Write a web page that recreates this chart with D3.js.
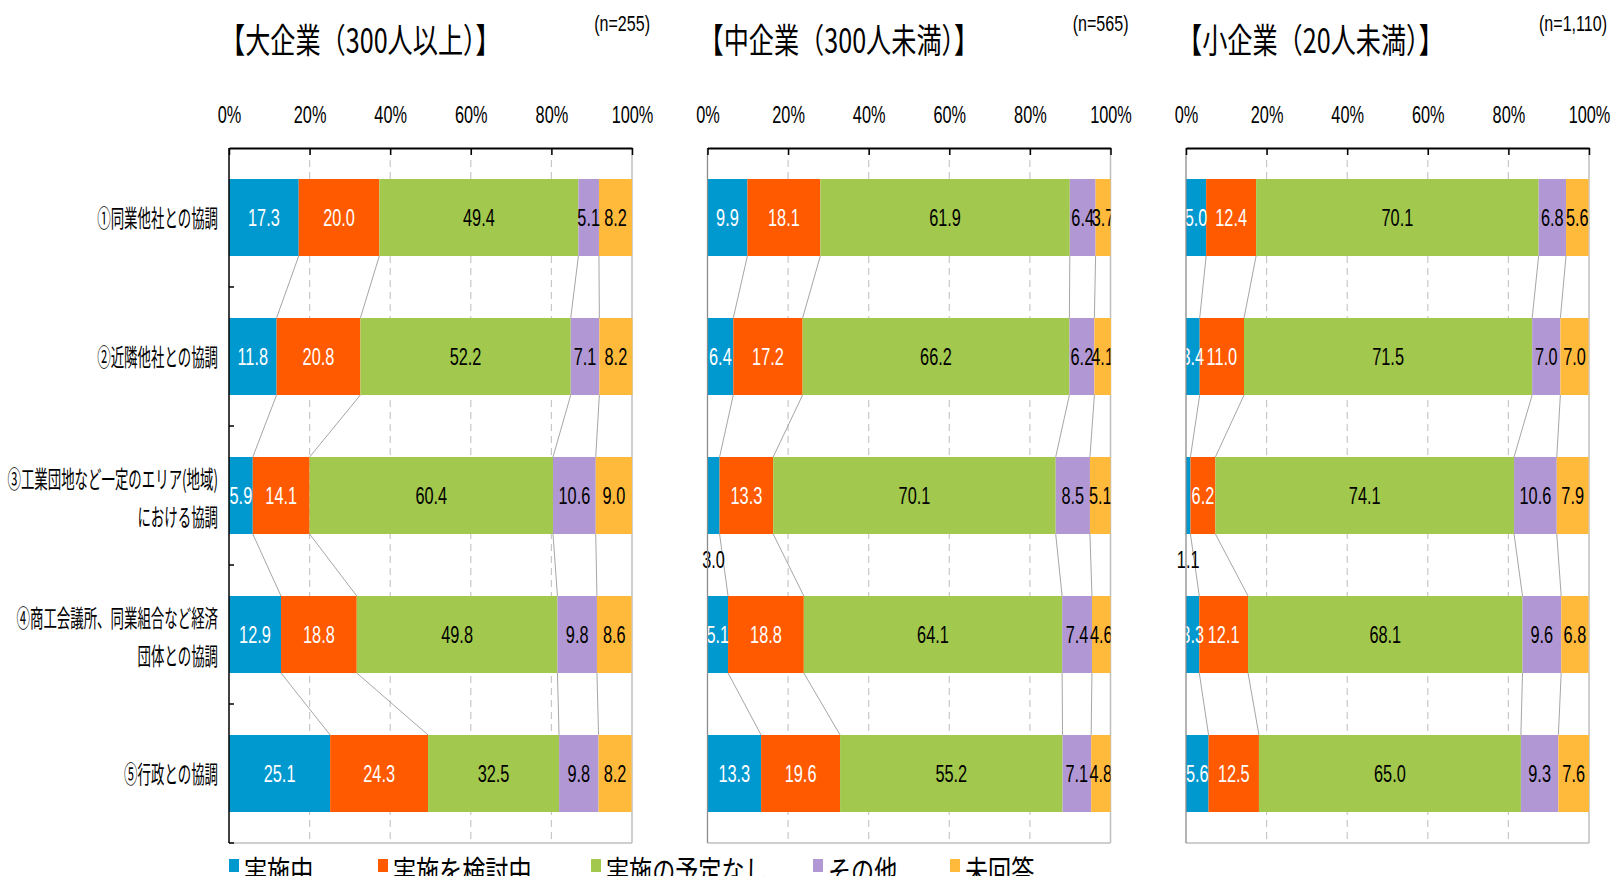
<!DOCTYPE html>
<html>
<head>
<meta charset="utf-8">
<script src="https://cdn.jsdelivr.net/npm/d3@7"></script>
<style>
  html, body { margin: 0; padding: 0; background: #fff; }
  svg { display: block; }
</style>
</head>
<body>
<svg id="chart" width="1611" height="876"></svg>
<script>
// ---------------- data ----------------
const categories = [
  ["①同業他社との協調"],
  ["②近隣他社との協調"],
  ["③工業団地など一定のエリア(地域)", "における協調"],
  ["④商工会議所、同業組合など経済", "団体との協調"],
  ["⑤行政との協調"]
];
const seriesNames = ["実施中", "実施を検討中", "実施の予定なし", "その他", "未回答"];
const seriesColors = ["#0099CF", "#FF5A00", "#A2C84E", "#B198D4", "#FFBA3B"];
const labelColors = ["#ffffff", "#ffffff", "#000000", "#000000", "#000000"];
const panelTitles = ["【大企業（300人以上）】", "【中企業（300人未満）】", "【小企業（20人未満）】"];
const panelN = ["(n=255)", "(n=565)", "(n=1,110)"];
const largeValues = [
  [17.3, 20.0, 49.4, 5.1, 8.2],
  [11.8, 20.8, 52.2, 7.1, 8.2],
  [5.9, 14.1, 60.4, 10.6, 9.0],
  [12.9, 18.8, 49.8, 9.8, 8.6],
  [25.1, 24.3, 32.5, 9.8, 8.2]
];
const mediumValues = [
  [9.9, 18.1, 61.9, 6.4, 3.7],
  [6.4, 17.2, 66.2, 6.2, 4.1],
  [3.0, 13.3, 70.1, 8.5, 5.1],
  [5.1, 18.8, 64.1, 7.4, 4.6],
  [13.3, 19.6, 55.2, 7.1, 4.8]
];
const smallValues = [
  [5.0, 12.4, 70.1, 6.8, 5.6],
  [3.4, 11.0, 71.5, 7.0, 7.0],
  [1.1, 6.2, 74.1, 10.6, 7.9],
  [3.3, 12.1, 68.1, 9.6, 6.8],
  [5.6, 12.5, 65.0, 9.3, 7.6]
];
const tickValues = [0, 20, 40, 60, 80, 100];
const tickLabels = ["0%", "20%", "40%", "60%", "80%", "100%"];

// ---------------- layout ----------------
const panels = [largeValues, mediumValues, smallValues];
const panelLeft = [229, 707.5, 1186];
const panelWidth = 403;
const plotTop = 148, plotBottom = 843;
const legendX = [229, 378, 591, 813, 950];
const CJK = "'Noto Sans CJK JP', 'Noto Sans', sans-serif";
const LAT = "'Liberation Sans', Arial, sans-serif";

const svg = d3.select("#chart");
svg.append("rect").attr("width", 1611).attr("height", 876).attr("fill", "#fff");

function squeezedText(g, x, y, str, opts) {
  return g.append("text")
    .attr("transform", `translate(${x},${y}) scale(${opts.sx},1)`)
    .attr("text-anchor", opts.anchor || "middle")
    .attr("font-family", opts.family)
    .attr("font-size", opts.size)
    .attr("fill", opts.fill || "#000")
    .text(str);
}

const y = d3.scaleBand()
  .domain(d3.range(categories.length))
  .range([plotTop, plotBottom])
  .paddingInner(0.446)
  .paddingOuter(0.223);
const step = y.step();

// category labels (left of first panel)
const catG = svg.append("g");
categories.forEach((lines, i) => {
  const cy = y(i) + y.bandwidth() / 2;
  const lh = 38;
  lines.forEach((ln, j) => {
    const ly = cy + (j - (lines.length - 1) / 2) * lh + (lines.length > 1 ? 2 : 0);
    squeezedText(catG, 218, ly + 9, ln, {sx: 0.56, anchor: "end", family: CJK, size: 24});
  });
});

panels.forEach((data, p) => {
  const x0 = panelLeft[p];
  const x = d3.scaleLinear().domain([0, 100]).range([x0, x0 + panelWidth]);
  const g = svg.append("g");

  // clip for data labels
  const clipId = "clip" + p;
  svg.append("clipPath").attr("id", clipId)
    .append("rect").attr("x", x0).attr("y", plotTop).attr("width", panelWidth).attr("height", plotBottom - plotTop);

  // gridlines
  g.selectAll("line.grid").data(tickValues.filter(t => t > 0 && t < 100)).join("line")
    .attr("x1", d => x(d)).attr("x2", d => x(d))
    .attr("y1", plotTop).attr("y2", plotBottom)
    .attr("stroke", "#c8c8c8").attr("stroke-width", 1.2).attr("stroke-dasharray", "7,5");

  // plot border (right, bottom)
  g.append("line").attr("x1", x(100)).attr("x2", x(100)).attr("y1", plotTop).attr("y2", plotBottom)
    .attr("stroke", "#bfbfbf").attr("stroke-width", 1.5);
  g.append("line").attr("x1", x0).attr("x2", x(100)).attr("y1", plotBottom).attr("y2", plotBottom)
    .attr("stroke", "#bfbfbf").attr("stroke-width", 1.5);

  // stacked data
  const stacked = data.map(row => {
    let c = 0;
    return row.map(v => { const s = c; c += v; return [s, c, v]; });
  });

  // series connector lines
  for (let i = 0; i < stacked.length - 1; i++) {
    for (let k = 0; k < seriesNames.length - 1; k++) {
      g.append("line")
        .attr("x1", x(stacked[i][k][1])).attr("y1", y(i) + y.bandwidth())
        .attr("x2", x(stacked[i + 1][k][1])).attr("y2", y(i + 1))
        .attr("stroke", "#a6a6a6").attr("stroke-width", 1);
    }
  }

  // bars
  stacked.forEach((row, i) => {
    g.selectAll(null).data(row).join("rect")
      .attr("x", d => x(d[0]))
      .attr("width", d => x(d[1]) - x(d[0]))
      .attr("y", y(i)).attr("height", y.bandwidth())
      .attr("fill", (d, k) => seriesColors[k]);
  });

  // data labels
  const lblG = g.append("g").attr("clip-path", `url(#${clipId})`);
  const outG = g.append("g");
  stacked.forEach((row, i) => {
    row.forEach((d, k) => {
      const cx = (x(d[0]) + x(d[1])) / 2;
      const cy = y(i) + y.bandwidth() / 2;
      if (d[2] <= 3.0) {
        squeezedText(outG, cx, y(i) + y.bandwidth() + 25 + 8.6, d[2].toFixed(1),
          {sx: 0.68, family: LAT, size: 24, fill: "#000"});
      } else {
        squeezedText(lblG, cx, cy + 8.6, d[2].toFixed(1),
          {sx: 0.68, family: LAT, size: 24, fill: labelColors[k]});
      }
    });
  });

  // left axis
  g.append("line").attr("x1", x0).attr("x2", x0).attr("y1", plotTop).attr("y2", plotBottom)
    .attr("stroke", p === 0 ? "#000" : "#8c8c8c").attr("stroke-width", p === 0 ? 1.5 : 1.3);
  if (p === 0) {
    d3.range(1, categories.length + 1).forEach(k => {
      const ty = plotTop + k * step;
      g.append("line").attr("x1", x0).attr("x2", x0 + 5).attr("y1", ty).attr("y2", ty)
        .attr("stroke", "#000").attr("stroke-width", 1.5);
    });
  }

  // top axis
  const axis = d3.axisTop(x).tickValues(tickValues)
    .tickFormat((d, i) => tickLabels[i]).tickSizeInner(-7).tickSizeOuter(0).tickPadding(25);
  const ax = g.append("g").attr("transform", `translate(0,${plotTop})`).call(axis);
  ax.select(".domain").attr("stroke", "#000").attr("stroke-width", 2);
  ax.selectAll(".tick line").attr("stroke", "#000").attr("stroke-width", 1.5);
  ax.selectAll(".tick text")
    .attr("font-family", LAT).attr("font-size", 24).attr("fill", "#000")
    .attr("transform", "scale(0.68,1)");

  // title and n
  squeezedText(g, x0 - 9, 53, panelTitles[p], {sx: 0.74, anchor: "start", family: CJK, size: 34});
  squeezedText(g, x(100) + 18, 31, panelN[p], {sx: 0.73, anchor: "end", family: LAT, size: 22});
});

// legend
const leg = svg.append("g");
seriesNames.forEach((name, k) => {
  leg.append("rect").attr("x", legendX[k]).attr("y", 859).attr("width", 10).attr("height", 13)
    .attr("fill", seriesColors[k]);
  squeezedText(leg, legendX[k] + 15, 882, name, {sx: 0.77, anchor: "start", family: CJK, size: 30});
});
</script>
</body>
</html>
